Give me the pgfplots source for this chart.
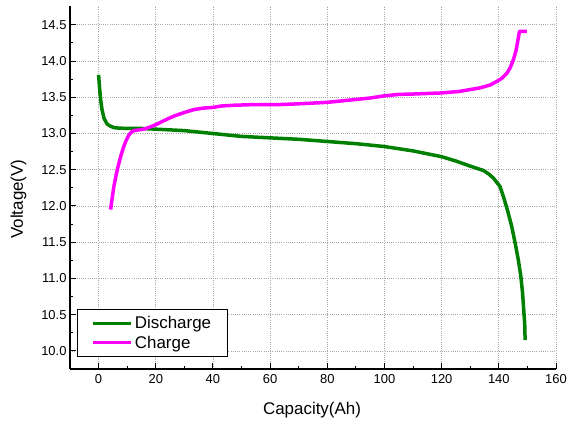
\documentclass[border=0pt]{standalone}
\usepackage{fontspec}
\setmainfont{Liberation Sans}
\usepackage{pgfplots}
\pgfplotsset{compat=1.18}

\definecolor{dischg}{HTML}{008000}
\definecolor{chg}{HTML}{FF00FF}

\begin{document}
\begin{tikzpicture}
\useasboundingbox (-70bp,-55bp) rectangle (498bp,369bp);
\begin{axis}[
    at={(0,0)}, anchor=south west,
    scale only axis,
    width=486bp, height=363bp,
    xmin=-10, xmax=160,
    ymin=9.75, ymax=14.76,
    xtick={0,20,...,160},
    ytick={10,10.5,...,14.5},
    minor x tick num=1,
    minor y tick num=1,
    axis x line*=bottom,
    axis y line*=left,
    axis line style={-, line width=1.2bp},
    tick align=inside,
    major tick length=6bp,
    minor tick length=3bp,
    tick style={black, line width=1bp},
    grid=major,
    major grid style={gray!70, line width=0.7bp, dash pattern=on 1bp off 1.2bp},
    /pgf/number format/assume math mode=true,
    yticklabel style={/pgf/number format/.cd, fixed, fixed zerofill, precision=1},
    ticklabel style={font=\fontsize{13}{15}\selectfont},
    xticklabel style={yshift=-2bp},
    xlabel={Capacity(Ah)},
    ylabel={Voltage(V)},
    label style={font=\fontsize{17}{20}\selectfont},
    xlabel style={at={(axis description cs:0.498,-0.113)}, anchor=center},
    ylabel style={at={(axis description cs:-0.106,0.468)}, anchor=center},
    legend cell align=left,
    legend style={at={(axis description cs:0.0144,0.033)}, anchor=south west,
      draw=black, line width=0.8bp, font=\fontsize{17}{20}\selectfont,
      inner xsep=14bp, inner ysep=5bp, row sep=1.7bp},
    legend image code/.code={\draw[#1, line width=3.5bp] (0bp,0bp) -- (38bp,0bp);},
    every axis plot/.append style={line width=3.5bp, line join=round},
]
\addplot[dischg, no markers] coordinates {
(0,13.81) (0.3,13.65) (0.7,13.47) (1.2,13.33) (1.9,13.21) (3,13.13) (4.2,13.10)
(5.5,13.08) (7,13.075) (10,13.07) (15,13.07) (20,13.06) (25,13.05) (30,13.04)
(35,13.02) (40,13.00) (45,12.98) (50,12.96) (55,12.95) (60,12.94) (70,12.92)
(80,12.89) (90,12.86) (100,12.82) (110,12.76) (120,12.68) (125,12.62) (130,12.55)
(134.6,12.49) (136.5,12.44) (138.1,12.385) (140.4,12.27) (141.6,12.13)
(143,11.945) (144.5,11.72) (145.7,11.49) (146.8,11.26) (147.7,11.03)
(148.3,10.80) (148.7,10.57) (149.05,10.38) (149.2,10.15)
};
\addlegendentry{Discharge}
\addplot[chg, no markers] coordinates {
(4.2,11.95) (4.8,12.12) (5.35,12.27) (6.2,12.44) (7.1,12.59) (8,12.72) (8.8,12.82)
(9.7,12.91) (10.6,12.98) (11.5,13.02) (12.3,13.04) (14,13.05) (15.8,13.06)
(18,13.09) (19.9,13.12) (23,13.18) (26.3,13.24) (30,13.29) (33.3,13.33)
(36.5,13.35) (39.9,13.36) (43,13.38) (47.3,13.39) (55,13.40) (63.6,13.40)
(70,13.41) (80,13.43) (85,13.45) (90,13.47) (95,13.49) (100,13.52) (105,13.54)
(110,13.545) (120,13.56) (126,13.58) (133.4,13.63) (137,13.67) (139.3,13.72)
(141,13.76) (142.8,13.83) (144,13.91) (145.1,14.02) (146,14.14) (146.5,14.25)
(147,14.36) (147.2,14.41) (148,14.41) (149.8,14.41)
};
\addlegendentry{Charge}
\end{axis}
\end{tikzpicture}
\end{document}
